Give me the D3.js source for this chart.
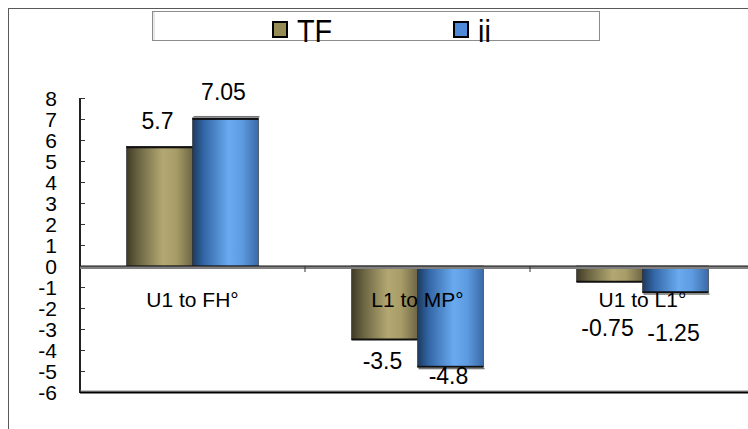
<!DOCTYPE html>
<html>
<head>
<meta charset="utf-8">
<script src="https://cdn.jsdelivr.net/npm/d3@7/dist/d3.min.js"></script>
<style>
  html, body { margin: 0; padding: 0; background: #fff; }
  svg { display: block; font-family: "Liberation Sans", Arial, sans-serif; }
</style>
</head>
<body>
<svg id="chart" width="748" height="429"></svg>
<script>
// Chart data
const categories = ["U1 to FH°", "L1 to MP°", "U1 to L1°"];
const seriesNames = ["TF", "ii"];
const tfValues = [5.7, -3.5, -0.75];
const iiValues = [7.05, -4.8, -1.25];
const yTicks = [8, 7, 6, 5, 4, 3, 2, 1, 0, -1, -2, -3, -4, -5, -6];

const seriesValues = [tfValues, iiValues];

const svg = d3.select("#chart");
const W = 748, H = 429;

// Plot area
const plot = { left: 80, right: 755, top: 98, bottom: 392 };

const y = d3.scaleLinear().domain([-6, 8]).range([plot.bottom, plot.top]);
const x0 = d3.scaleBand().domain(categories).range([plot.left, plot.right]);
const x1 = d3.scaleBand().domain(seriesNames)
  .range([46.5, x0.bandwidth() - 46.5]).paddingInner(0);

// Cylinder-like gradients for the bars
const defs = svg.append("defs");
const gradStops = {
  TF: [["0%", "#3f3a26"], ["18%", "#6b6442"], ["55%", "#b3a872"], ["75%", "#a89d68"], ["100%", "#6e6645"]],
  ii: [["0%", "#1c3a60"], ["18%", "#3468a8"], ["55%", "#6aaaf0"], ["75%", "#5e9be0"], ["100%", "#3a6aa8"]]
};
seriesNames.forEach(s => {
  const g = defs.append("linearGradient").attr("id", "grad-" + s)
    .attr("x1", "0%").attr("x2", "100%").attr("y1", "0%").attr("y2", "0%");
  gradStops[s].forEach(([o, c]) => g.append("stop").attr("offset", o).attr("stop-color", c));
});
const legendFill = { TF: "#958b55", ii: "#4f8ad8" };

// Outer frame (top and left edges)
svg.append("line").attr("x1", 8).attr("x2", W).attr("y1", 8.5).attr("y2", 8.5)
  .attr("stroke", "#595959").attr("stroke-width", 1);
svg.append("line").attr("x1", 8.5).attr("x2", 8.5).attr("y1", 8).attr("y2", H)
  .attr("stroke", "#595959").attr("stroke-width", 1);

// Legend box
const legend = svg.append("g");
legend.append("rect").attr("x", 152.5).attr("y", 11.5).attr("width", 447).attr("height", 29)
  .attr("fill", "#fff").attr("stroke", "#8c8c8c").attr("stroke-width", 1);
legend.append("line").attr("x1", 154).attr("x2", 154).attr("y1", 12).attr("y2", 40)
  .attr("stroke", "#d0d0d0");
const legendItems = [
  { name: "TF", sx: 272, tx: 297 },
  { name: "ii", sx: 453, tx: 478 }
];
legendItems.forEach(it => {
  legend.append("rect").attr("x", it.sx + 1).attr("y", 22).attr("width", 14).attr("height", 15)
    .attr("fill", legendFill[it.name]).attr("stroke", "#000").attr("stroke-width", 2);
  legend.append("text")
    .attr("transform", `translate(${it.tx},42) scale(0.9,1)`)
    .attr("font-size", 32).attr("fill", "#000").text(it.name);
});

// Bars
const groups = svg.append("g").selectAll("g")
  .data(categories.map((c, i) => ({ cat: c, i })))
  .join("g")
  .attr("transform", d => `translate(${x0(d.cat)},0)`);

groups.each(function (d) {
  const g = d3.select(this);
  seriesNames.forEach((s, si) => {
    const v = seriesValues[si][d.i];
    const bx = x1(s), bw = x1.bandwidth();
    const yTop = Math.min(y(v), y(0)), yBot = Math.max(y(v), y(0));
    g.append("rect").attr("x", bx).attr("y", yTop).attr("width", bw).attr("height", yBot - yTop)
      .attr("fill", `url(#grad-${s})`).attr("stroke", "#2a2a2a").attr("stroke-width", 0.6);
    // Dark cap on the far end of the bar
    const capY = v >= 0 ? y(v) : y(v) - 1;
    g.append("rect").attr("x", bx).attr("y", capY).attr("width", bw).attr("height", 2)
      .attr("fill", "#111");
    if (s === "ii") {
      g.append("rect").attr("x", bx + 1).attr("y", v >= 0 ? y(v) - 2 : y(v) + 1)
        .attr("width", bw).attr("height", 1.5).attr("fill", "#777");
    }
  });
});

// Axes
const yAxis = d3.axisRight(y).tickValues(yTicks).tickSize(5).tickFormat("");
const yAxisG = svg.append("g").attr("transform", `translate(${plot.left},0)`).call(yAxis);
yAxisG.select(".domain").remove();
yAxisG.selectAll(".tick line").attr("stroke", "#333").attr("stroke-width", 1);
svg.append("line").attr("x1", plot.left).attr("x2", plot.left)
  .attr("y1", plot.top).attr("y2", plot.bottom + 1)
  .attr("stroke", "#222").attr("stroke-width", 2);

svg.append("g").selectAll("text").data(yTicks).join("text")
  .attr("x", 57).attr("y", d => y(d) + 7.5)
  .attr("text-anchor", "end").attr("font-size", 21).attr("fill", "#000")
  .text(d => d);

// Zero line with category ticks
svg.append("line").attr("x1", plot.left).attr("x2", W).attr("y1", y(0) + 1.5).attr("y2", y(0) + 1.5)
  .attr("stroke", "#808080").attr("stroke-width", 3);
svg.append("line").attr("x1", plot.left).attr("x2", W).attr("y1", y(0)).attr("y2", y(0))
  .attr("stroke", "#111").attr("stroke-width", 1);
const catBounds = categories.slice(1).map(c => x0(c));
svg.append("g").selectAll("line").data(catBounds).join("line")
  .attr("x1", d => d).attr("x2", d => d).attr("y1", y(0)).attr("y2", y(0) + 6)
  .attr("stroke", "#333").attr("stroke-width", 1);

// Bottom edge of the plot
svg.append("line").attr("x1", plot.left).attr("x2", W).attr("y1", plot.bottom - 1).attr("y2", plot.bottom - 1)
  .attr("stroke", "#888").attr("stroke-width", 1);
svg.append("line").attr("x1", plot.left).attr("x2", W).attr("y1", plot.bottom + 0.5).attr("y2", plot.bottom + 0.5)
  .attr("stroke", "#000").attr("stroke-width", 2);

// Category labels
svg.append("g").selectAll("text").data(categories).join("text")
  .attr("x", d => x0(d) + x0.bandwidth() / 2).attr("y", 307)
  .attr("text-anchor", "middle").attr("font-size", 21).attr("fill", "#000")
  .text(d => d);

// Value labels (vertical nudges keep the negatives clear of the category names)
const negNudge = [[29, 54], [17, 49]];
seriesNames.forEach((s, si) => {
  categories.forEach((c, ci) => {
    const v = seriesValues[si][ci];
    let ly;
    if (v >= 0) ly = y(v) - 17 - (s === "ii" ? 1 : 0);
    else ly = y(v) + (ci === 1 ? negNudge[si][0] : negNudge[si][1]);
    svg.append("text")
      .attr("x", x0(c) + x1(s) + x1.bandwidth() / 2 - 2)
      .attr("y", ly)
      .attr("text-anchor", "middle").attr("font-size", 23).attr("fill", "#000")
      .text(v);
  });
});
</script>
</body>
</html>
